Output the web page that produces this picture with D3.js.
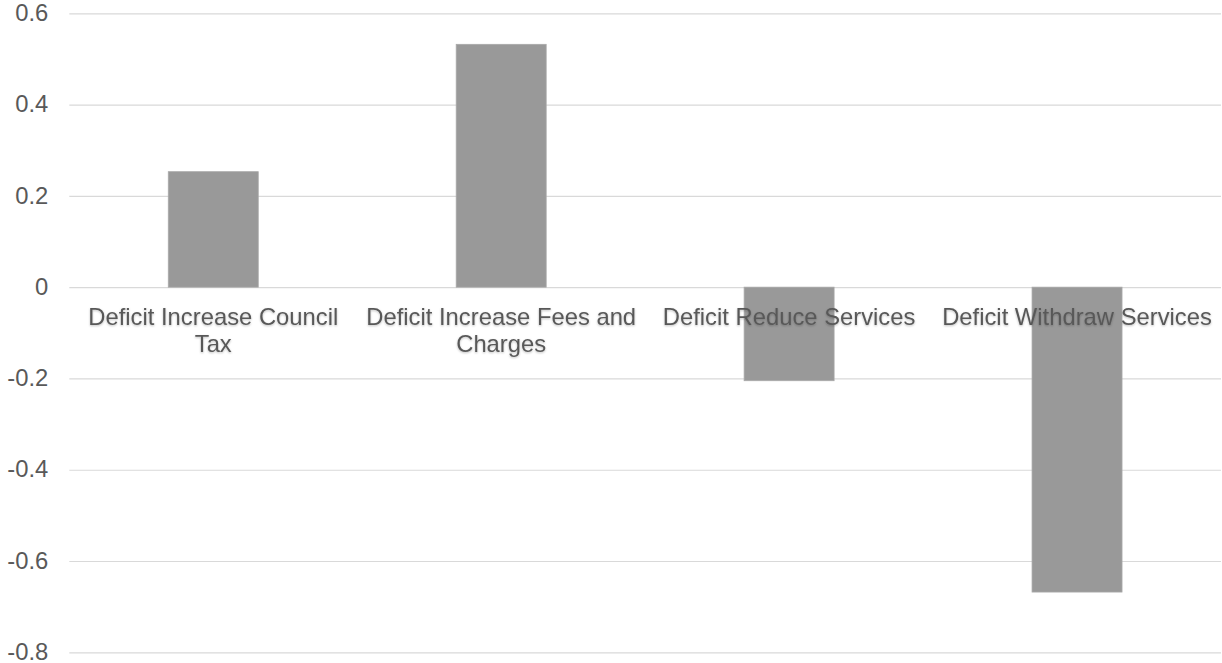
<!DOCTYPE html>
<html>
<head>
<meta charset="utf-8">
<script src="https://cdn.jsdelivr.net/npm/d3@7"></script>
<style>
  html, body { margin: 0; padding: 0; background: #ffffff; }
  svg { display: block; }
  text { font-family: "Liberation Sans", Arial, sans-serif; fill: #595959; }
</style>
</head>
<body>
<svg id="chart" width="1222" height="663"></svg>
<script>
// Survey responses: net preference for each deficit option
const categories = [
  "Deficit Increase Council Tax",
  "Deficit Increase Fees and Charges",
  "Deficit Reduce Services",
  "Deficit Withdraw Services"
];
const values = [0.253, 0.532, -0.205, -0.668];
const yTicks = [-0.8, -0.6, -0.4, -0.2, 0, 0.2, 0.4, 0.6];
const yTickLabels = ["-0.8", "-0.6", "-0.4", "-0.2", "0", "0.2", "0.4", "0.6"];

const width = 1222, height = 663;
const margin = { top: 13.3, right: 1, bottom: 10.7, left: 69.3 };
const fontSize = 23.8;

const svg = d3.select("#chart");

const defs = svg.append("defs");
const shadow = defs.append("filter").attr("id", "soft")
  .attr("x", "-10%").attr("y", "-30%").attr("width", "120%").attr("height", "160%");
shadow.append("feDropShadow")
  .attr("dx", 0).attr("dy", 1).attr("stdDeviation", 1.2)
  .attr("flood-color", "#000").attr("flood-opacity", 0.25);

const x = d3.scaleBand()
  .domain(categories)
  .range([margin.left, width - margin.right])
  .paddingInner(0.6875)
  .paddingOuter(0.34375);

const y = d3.scaleLinear()
  .domain([-0.8, 0.6])
  .range([height - margin.bottom, margin.top]);

// Horizontal gridlines with tick labels on the left
const yAxis = d3.axisLeft(y)
  .tickValues(yTicks)
  .tickFormat((d, i) => yTickLabels[i])
  .tickSize(-(width - margin.right - margin.left))
  .tickPadding(21);

const gy = svg.append("g")
  .attr("transform", `translate(${margin.left},0)`)
  .call(yAxis);
gy.select(".domain").remove();
gy.selectAll(".tick line").attr("stroke", "#d9d9d9").attr("stroke-width", 1.2);
gy.selectAll(".tick text")
  .attr("font-size", fontSize + "px")
  .attr("dy", "0.3em")
  .style("fill", "#595959");

// Bars
svg.append("g")
  .selectAll("rect")
  .data(values)
  .join("rect")
  .attr("x", (d, i) => x(categories[i]))
  .attr("width", x.bandwidth())
  .attr("y", d => y(Math.max(0, d)))
  .attr("height", d => Math.abs(y(d) - y(0)))
  .attr("fill", "#999999")
  .attr("stroke", "#a9a9a9")
  .attr("stroke-width", 0.8);

// Category labels placed just below the zero line, wrapped to the band step
const labels = svg.append("g").attr("filter", "url(#soft)");
const maxW = x.step() - 6;
categories.forEach(cat => {
  const cx = x(cat) + x.bandwidth() / 2;
  const t = labels.append("text")
    .attr("x", cx)
    .attr("y", y(0) + 38)
    .attr("text-anchor", "middle")
    .attr("font-size", fontSize + "px");
  const words = cat.split(" ");
  let line = [];
  let tspan = t.append("tspan").attr("x", cx).attr("dy", 0);
  words.forEach(w => {
    line.push(w);
    tspan.text(line.join(" "));
    if (tspan.node().getComputedTextLength() > maxW && line.length > 1) {
      line.pop();
      tspan.text(line.join(" "));
      line = [w];
      tspan = t.append("tspan")
        .attr("x", cx)
        .attr("dy", 26.5)
        .text(w);
    }
  });
});
</script>
</body>
</html>
